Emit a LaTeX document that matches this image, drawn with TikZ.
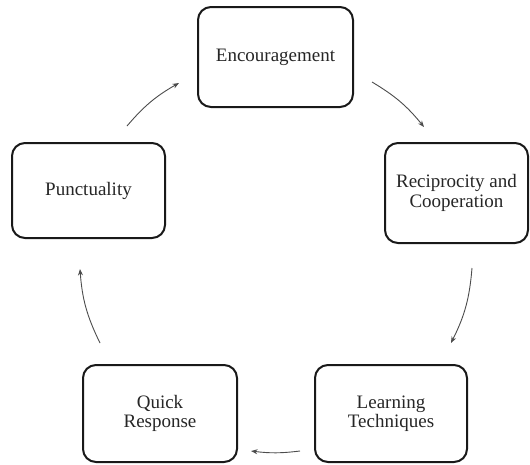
\documentclass[tikz,border=0pt]{standalone}
\usepackage{fontspec}
\setmainfont{Liberation Serif}
\usetikzlibrary{arrows.meta}
\begin{document}
\begin{tikzpicture}[x=1pt,y=-1pt,
  stagebox/.style={draw=black!90, line width=2pt, rounded corners=13pt, fill=white,
    text=black!85, font=\fontsize{19}{19.5}\selectfont, align=center, inner sep=0pt},
  cyclearrow/.style={draw=black!70, line width=0.9pt, -{Stealth[length=6.5pt,width=5pt]}}]
\useasboundingbox (0,0) rectangle (530,464);
\node[stagebox, minimum width=155pt, minimum height=100pt] (enc) at (275.5,57) {Encouragement};
\node[stagebox, minimum width=143pt, minimum height=100pt] (rec) at (456.5,193) {Reciprocity and\\Cooperation};
\node[stagebox, minimum width=153pt, minimum height=95pt] (pun) at (88.5,190.5) {Punctuality};
\node[stagebox, minimum width=154pt, minimum height=97pt] (qui) at (160,413.5) {Quick\\Response};
\node[stagebox, minimum width=152pt, minimum height=97pt] (lea) at (391,413.5) {Learning\\Techniques};
\coordinate (a1s) at (372,82);  \coordinate (a1e) at (424,127);
\coordinate (a2s) at (472,268); \coordinate (a2e) at (451,343);
\coordinate (a3s) at (300,451); \coordinate (a3e) at (251,451);
\coordinate (a4s) at (100,343); \coordinate (a4e) at (80,269);
\coordinate (a5s) at (127,126); \coordinate (a5e) at (179,83);
\draw[cyclearrow] (a1s) to[bend left=10] (a1e);
\draw[cyclearrow] (a2s) to[bend left=11] (a2e);
\draw[cyclearrow] (a3s) to[bend left=7] (a3e);
\draw[cyclearrow] (a4s) to[bend left=11] (a4e);
\draw[cyclearrow] (a5s) to[bend left=10] (a5e);
\end{tikzpicture}
\end{document}
